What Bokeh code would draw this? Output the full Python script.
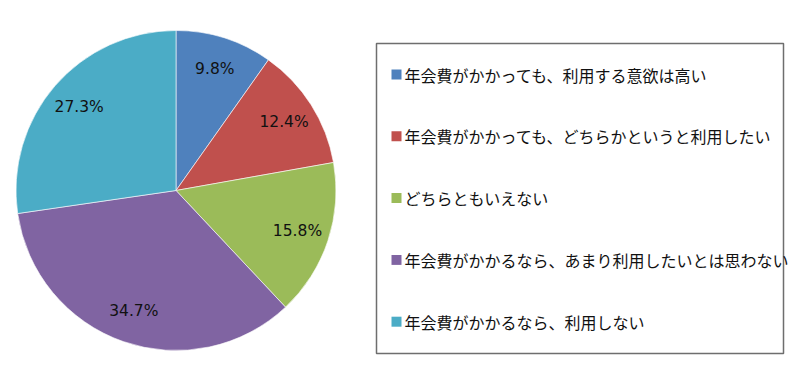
import math
from bokeh.plotting import figure
from bokeh.models import Range1d, ColumnDataSource
from bokeh.core.properties import value
from bokeh.embed import file_html
from bokeh.resources import INLINE

# ---- data ----
categories = [
    "年会費がかかっても、利用する意欲は高い",
    "年会費がかかっても、どちらかというと利用したい",
    "どちらともいえない",
    "年会費がかかるなら、あまり利用したいとは思わない",
    "年会費がかかるなら、利用しない",
]
values = [9.8, 12.4, 15.8, 34.7, 27.3]
colors = ["#4F81BD", "#C0504D", "#9BBB59", "#8064A2", "#4BACC6"]
labels = [f"{v:.1f}%" for v in values]

# ---- layout (page pixel coordinates) ----
W, H = 792, 369
XOFF, YOFF = 0, 8
def Y(py):
    return YOFF + H - py

cx, cy, R = 175.5, 190, 160
label_r = 128

total = sum(values)
starts, ends, lx, ly = [], [], [], []
acc = 0.0
for v in values:
    a0 = math.pi / 2 - 2 * math.pi * acc / total
    a1 = math.pi / 2 - 2 * math.pi * (acc + v) / total
    starts.append(a0)
    ends.append(a1)
    mid = (a0 + a1) / 2
    lx.append(cx + label_r * math.cos(mid))
    ly.append(Y(cy) + label_r * math.sin(mid))
    acc += v

p = figure(width=W, height=H, output_backend="svg", toolbar_location=None,
           x_range=Range1d(XOFF, XOFF + W), y_range=Range1d(YOFF, YOFF + H),
           min_border=0, match_aspect=False)
p.axis.visible = False
p.grid.visible = False
p.outline_line_color = None
p.background_fill_color = "white"
p.border_fill_color = "white"

src = ColumnDataSource(dict(start=starts, end=ends, color=colors, lx=lx, ly=ly, label=labels))
p.wedge(x=cx, y=Y(cy), radius=R, start_angle="start", end_angle="end",
        direction="clock", fill_color="color", line_color="white", line_width=0.6,
        source=src)
p.text(x="lx", y="ly", text="label", source=src, text_align="center",
       text_baseline="middle", text_font=value("DejaVu Sans"),
       text_font_size="15.5px", text_color="#111111")

# legend box
bx0, by0, bx1, by1 = 376, 43, 783, 353
p.quad(left=bx0, right=bx1, top=Y(by0), bottom=Y(by1), fill_color="white",
       line_color="#6e6e6e", line_width=1.5)

item_y0, item_dy = 74, 61.8
leg_y = [Y(item_y0 + i * item_dy) for i in range(len(categories))]
leg_src = ColumnDataSource(dict(y=leg_y, color=colors, text=categories))
p.rect(x=396, y="y", width=10, height=10, fill_color="color", line_color=None,
       source=leg_src)
p.text(x=404, y="y", text="text", source=leg_src, text_align="left",
       text_baseline="middle", text_font=value("Noto Sans CJK JP"),
       text_font_size="16px", text_color="#111111")

open("out.html", "w").write(file_html(p, INLINE))
